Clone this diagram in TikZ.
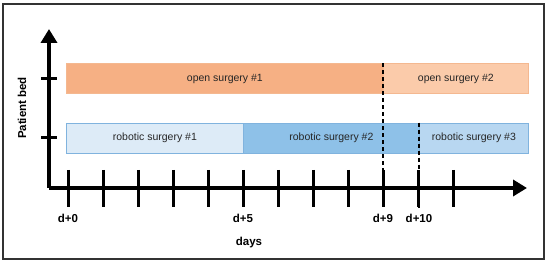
\documentclass[tikz,border=0pt]{standalone}
\usepackage{fontspec}
\setmainfont{Liberation Sans}
\usepackage{xcolor}
\usetikzlibrary{positioning, arrows.meta, calc}

\definecolor{openA}{HTML}{F6B084}
\definecolor{openB}{HTML}{FBCBAA}
\definecolor{openLine}{HTML}{F4B890}
\definecolor{robA}{HTML}{DDEBF7}
\definecolor{robB}{HTML}{8EC1E8}
\definecolor{robC}{HTML}{B8D7F1}
\definecolor{robLine}{HTML}{80B3DE}

\begin{document}
\begin{tikzpicture}[x=1pt, y=1pt,
    axis/.style={line width=3.5pt, -{Triangle[length=14pt, width=16pt]}},
    tickmark/.style={line width=3pt},
    bar/.style={minimum height=30pt, inner sep=0pt, anchor=west, line width=0.8pt,
        font=\fontsize{10.5}{12}\selectfont, text=black!85},
    openbar/.style={bar, draw=openLine},
    robbar/.style={bar, draw=robLine},
    daylabel/.style={font=\fontsize{11.5}{13}\selectfont\bfseries},
    cut/.style={line width=1.1pt, dash pattern=on 4pt off 3pt}
  ]

        \useasboundingbox (0,0) rectangle (550,265);

        % Main Box
        \draw[line width=1.3pt, black!80] (3,6) rectangle (544,261);

        % Axes
        \coordinate (origin) at (49,77);
        \draw[axis] (origin) -- (49,236);
        \draw[axis] (origin) -- (527,77);

        % Day ticks
        \foreach \i in {0,...,11}
            \draw[tickmark] (68+35*\i, 95) -- (68+35*\i, 58);

        % Bed ticks
        \draw[tickmark] (41,186.5) -- (57,186.5);
        \draw[tickmark] (41,127) -- (57,127);

        % Open surgery bars
        \node[openbar, fill=openA, minimum width=317pt] (open1) at (66,186.5) {open surgery \#1};
        \node[openbar, fill=openB, minimum width=145pt] (open2) at (383,186.5) {open surgery \#2};

        % Robotic surgery bars
        \node[robbar, fill=robA, minimum width=177pt] (rob1) at (66,127) {robotic surgery \#1};
        \node[robbar, fill=robB, minimum width=176pt] (rob2) at (243,127) {robotic surgery \#2};
        \node[robbar, fill=robC, minimum width=109pt] (rob3) at (419,127) {robotic surgery \#3};

        % Change-over lines
        \draw[cut] (open2.north west) -- (383,58);
        \draw[cut] (rob3.north west) -- (419,58);

        % Day labels
        \node[daylabel] (d0) at (68,47) {d+0};
        \node[daylabel] (d5) at (243,47) {d+5};
        \node[daylabel] (d9) at (383,47) {d+9};
        \node[daylabel] (d10) at (419,47) {d+10};
        \node[daylabel] (days) at (249,22) {days};

        % Bed label
        \node[daylabel, rotate=90] (bed) at (22,157) {Patient bed};

    \end{tikzpicture}
\end{document}
